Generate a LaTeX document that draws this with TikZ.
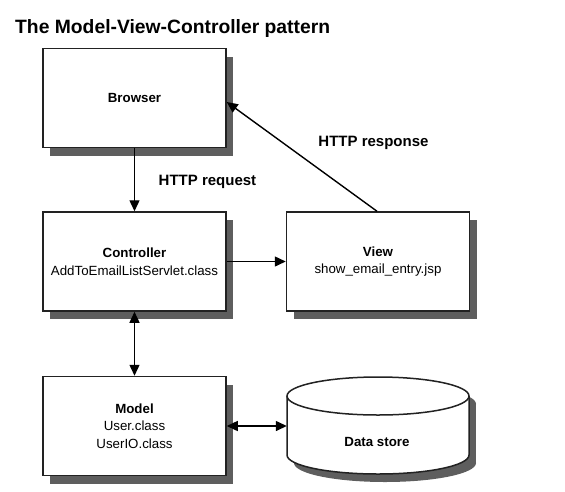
\documentclass[tikz,border=0pt]{standalone}
\usepackage{fontspec}
\setmainfont{Liberation Sans}
\usetikzlibrary{arrows.meta,shadows}
\definecolor{shadowgray}{HTML}{5E5E5E}
\definecolor{linegray}{HTML}{222222}
\begin{document}
\begin{tikzpicture}[x=1pt,y=1pt,
  box/.style={draw=linegray,line width=1.5pt,fill=white,minimum width=183pt,minimum height=99pt,
    inner sep=0pt,align=center,font=\fontsize{13.3}{17.5}\selectfont,
    drop shadow={shadow xshift=7pt,shadow yshift=-8pt,fill=shadowgray,opacity=1}},
  lbl/.style={font=\fontsize{15}{18}\selectfont\bfseries,inner sep=0pt},
  tip/.style={Triangle[length=11pt,width=10pt]},
  arr/.style={draw=black,line width=1.4pt,-{Triangle[length=11pt,width=10pt]}},
  darr/.style={draw=black,line width=1.4pt,{Triangle[length=11pt,width=10pt]}-{Triangle[length=11pt,width=10pt]}}]
\useasboundingbox (0,0) rectangle (565,-491);
\node[anchor=base west,font=\fontsize{19.3}{22}\selectfont\bfseries,inner sep=0pt] (title) at (15,-33) {The Model-View-Controller pattern};
\node[box] (browser) at (134.5,-98) {\textbf{Browser}};
\node[box] (controller) at (134.5,-261.5) {\textbf{Controller}\\AddToEmailListServlet.class};
\node[box] (view) at (378,-261.5) {\textbf{View}\\show\_email\_entry.jsp};
\node[box] (model) at (134.5,-426) {\textbf{Model}\\User.class\\UserIO.class};
% data store cylinder
\node[minimum width=182pt,minimum height=98pt,inner sep=0pt] (ds) at (378,-426) {};
\fill[shadowgray] (294,-404) rectangle (476,-463);
\fill[shadowgray] (385,-404) ellipse [x radius=91,y radius=19];
\fill[shadowgray] (385,-463) ellipse [x radius=91,y radius=19];
\fill[white] (287,-396) rectangle (469,-455);
\fill[white] (378,-455) ellipse [x radius=91,y radius=19];
\draw[linegray,line width=1.5pt,fill=white] (378,-396) ellipse [x radius=91,y radius=19];
\draw[linegray,line width=1.5pt] (287,-396) -- (287,-455) arc[start angle=180,end angle=360,x radius=91,y radius=19] -- (469,-396);
\node[font=\fontsize{13.3}{16}\selectfont\bfseries] (dstext) at (377,-442) {Data store};
% connectors
\draw[arr] (browser) -- (controller);
\draw[arr] (controller) -- (view);
\draw[arr] ([xshift=-1pt]view.north) -- ([yshift=-4pt]browser.east);
\draw[darr] (controller) -- (model);
\draw[darr] (model.east) -- (ds.west);
\node[lbl] (req) at (207.5,-182) {HTTP request};
\node[lbl] (resp) at (373.5,-143) {HTTP response};
\end{tikzpicture}
\end{document}
